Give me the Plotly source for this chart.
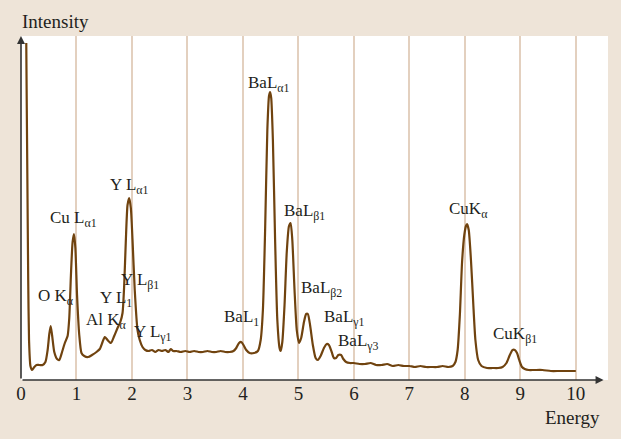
import plotly.graph_objects as go

# Spectrum (energy in keV, intensity in arbitrary units)
energy = [0.095, 0.10, 0.115, 0.13, 0.145, 0.17, 0.20, 0.24, 0.28, 0.33, 0.39, 0.44, 0.48, 0.51, 0.535, 0.56, 0.60, 0.65, 0.69, 0.74, 0.79, 0.84, 0.87, 0.90, 0.93, 0.955, 0.98, 1.01, 1.05, 1.09, 1.14, 1.21, 1.28, 1.36, 1.42, 1.47, 1.51, 1.56, 1.62, 1.68, 1.74, 1.79, 1.83, 1.86, 1.89, 1.92, 1.95, 1.98, 2.01, 2.05, 2.10, 2.14, 2.19, 2.24, 2.30, 2.36, 2.42, 2.48, 2.54, 2.60, 2.66, 2.70, 2.74, 2.80, 2.88, 2.96, 3.04, 3.12, 3.20, 3.28, 3.36, 3.44, 3.52, 3.60, 3.68, 3.76, 3.83, 3.88, 3.93, 3.97, 4.01, 4.06, 4.12, 4.20, 4.27, 4.32, 4.36, 4.40, 4.44, 4.47, 4.49, 4.51, 4.54, 4.58, 4.62, 4.66, 4.68, 4.71, 4.75, 4.79, 4.83, 4.86, 4.89, 4.93, 4.97, 5.01, 5.05, 5.10, 5.14, 5.17, 5.21, 5.26, 5.31, 5.35, 5.40, 5.46, 5.51, 5.55, 5.60, 5.64, 5.68, 5.72, 5.77, 5.81, 5.86, 5.93, 6.00, 6.10, 6.20, 6.30, 6.40, 6.50, 6.60, 6.70, 6.80, 6.90, 7.00, 7.10, 7.20, 7.30, 7.40, 7.50, 7.60, 7.70, 7.78, 7.83, 7.87, 7.91, 7.95, 7.99, 8.02, 8.04, 8.07, 8.11, 8.15, 8.19, 8.24, 8.30, 8.40, 8.50, 8.60, 8.68, 8.75, 8.81, 8.86, 8.90, 8.94, 8.98, 9.03, 9.08, 9.15, 9.25, 9.40, 9.55, 9.70, 9.85, 10.00, 10.16]
intensity = [337, 300, 200, 100, 40, 14, 10, 13, 15, 15, 15, 18, 30, 46, 54, 45, 28, 21, 20, 28, 37, 44, 62, 105, 138, 146, 132, 85, 45, 27, 24, 23, 25, 28, 31, 38, 43, 40, 37, 44, 52, 58, 67, 95, 140, 175, 182, 172, 140, 90, 50, 40, 33, 30, 29, 30, 28, 30, 29, 30, 28, 31, 29, 29, 28, 29, 28, 29, 28, 28, 29, 28, 28, 29, 28, 28, 29, 32, 37, 38, 35, 30, 27, 27, 29, 40, 70, 150, 250, 284, 288, 282, 240, 140, 60, 32, 29, 38, 75, 128, 154, 157, 140, 90, 50, 37, 42, 58, 66, 66, 55, 35, 22, 20, 24, 32, 36, 35, 28, 22, 22, 25, 25, 21, 18, 17, 17, 16, 16, 17, 15, 15, 16, 14, 15, 14, 14, 13, 14, 13, 13, 13, 14, 13, 14, 18, 30, 65, 118, 145, 154, 156, 150, 120, 78, 40, 20, 14, 12, 12, 12, 13, 17, 25, 30, 30, 27, 20, 13, 11, 10, 10, 10, 9, 9, 9, 9]

# Peak labels: text, x (keV), y (intensity units)
label_text = ["O K<sub>α</sub>", "Cu L<sub>α1</sub>", "Y L<sub>α1</sub>", "Y L<sub>1</sub>", "Y L<sub>β1</sub>",
              "Al K<sub>α</sub>", "Y L<sub>γ1</sub>", "BaL<sub>1</sub>", "BaL<sub>α1</sub>", "BaL<sub>β1</sub>",
              "BaL<sub>β2</sub>", "BaL<sub>γ1</sub>", "BaL<sub>γ3</sub>", "CuK<sub>α</sub>", "CuK<sub>β1</sub>"]
label_x = [0.27, 0.49, 1.57, 1.39, 1.77, 1.14, 2.00, 3.62, 4.05, 4.70, 5.01, 5.42, 5.68, 7.68, 8.47]
label_y = [83, 161, 194, 81, 99, 59, 47, 62, 296, 168, 91, 62, 38, 170, 45]

tick_vals = list(range(0, 11))
tick_text = [str(v) for v in tick_vals]

BG = "#EEE4D8"
GRID = "#E3D0BF"
LINE = "#70430F"
TXT = "#231F20"
FONT = "Liberation Serif"

fig = go.Figure()
fig.add_trace(go.Scatter(x=energy, y=intensity, mode="lines",
                         line=dict(color=LINE, width=2.2, shape="spline", smoothing=0.6),
                         hoverinfo="skip", showlegend=False))

anns = []
for t, x, y in zip(label_text, label_x, label_y):
    anns.append(dict(x=x, y=y, xref="x", yref="y", text=t, showarrow=False,
                     xanchor="left", yanchor="middle",
                     font=dict(family=FONT, size=17, color=TXT)))

# axis arrows
anns.append(dict(x=10.5, y=0, xref="x", yref="y", ax=0, ay=0, axref="x", ayref="y",
                 showarrow=True, arrowhead=2, arrowsize=1, arrowwidth=1.6, arrowcolor="#333333", text=""))
anns.append(dict(x=0, y=344, xref="x", yref="y", ax=0, ay=0, axref="x", ayref="y",
                 showarrow=True, arrowhead=2, arrowsize=1, arrowwidth=1.6, arrowcolor="#333333", text=""))
anns.append(dict(x=0.9898, y=-0.1076, xref="paper", yref="paper", text="Energy", showarrow=False,
                 xanchor="right", yanchor="middle", font=dict(family=FONT, size=19, color=TXT)))
anns.append(dict(x=-0.002, y=1.0407, xref="paper", yref="paper", text="Intensity", showarrow=False,
                 xanchor="left", yanchor="middle", font=dict(family=FONT, size=19, color=TXT)))

fig.update_layout(
    width=621, height=439,
    margin=dict(l=21, r=13, t=36, b=59),
    paper_bgcolor=BG, plot_bgcolor="white",
    annotations=anns,
    xaxis=dict(range=[0, 10.58], tickvals=tick_vals, ticktext=tick_text, showgrid=True,
               gridcolor=GRID, gridwidth=2, zeroline=False, showline=False, ticks="",
               tickfont=dict(family=FONT, size=19, color=TXT), fixedrange=True),
    yaxis=dict(range=[0, 344], showgrid=False, zeroline=False, showline=False,
               showticklabels=False, ticks="", fixedrange=True),
)

fig.write_html("out.html", config={"displayModeBar": False},
               post_script="document.body.style.margin='0';")
